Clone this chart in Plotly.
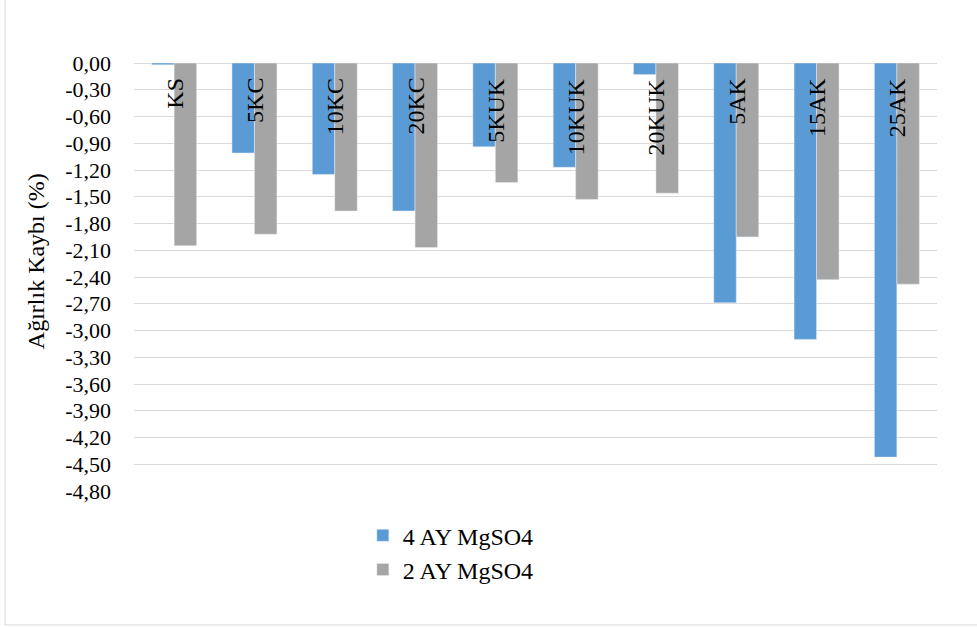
import plotly.graph_objects as go

# Sample groups and weight-loss values (%)
categories = ["KS", "5KC", "10KC", "20KC", "5KUK", "10KUK", "20KUK", "5AK", "15AK", "25AK"]
loss_4ay = [-0.02, -1.01, -1.25, -1.66, -0.94, -1.17, -0.13, -2.69, -3.10, -4.42]
loss_2ay = [-2.05, -1.92, -1.66, -2.07, -1.34, -1.53, -1.46, -1.95, -2.43, -2.48]

tick_values = [round(-0.3 * i, 2) for i in range(17)]
tick_labels = [f"{abs(v):.2f}".replace(".", ",") if v == 0 else f"-{abs(v):.2f}".replace(".", ",") for v in tick_values]

FONT = "Liberation Serif, Times New Roman, serif"
BLUE = "#5B9BD5"
GRAY = "#A5A5A5"
GRID = "#D9D9D9"

fig = go.Figure()
fig.add_trace(go.Bar(x=categories, y=loss_4ay, name="4 AY MgSO4", marker_color=BLUE))
fig.add_trace(go.Bar(x=categories, y=loss_2ay, name="2 AY MgSO4", marker_color=GRAY))

# Category names written vertically (bottom-to-top) inside the plot, below the zero line
annotations = [
    dict(x=c, y=0, xref="x", yref="y", text=c, textangle=-90, showarrow=False,
         xanchor="center", yanchor="top", yshift=-13,
         font=dict(family=FONT, size=24, color="#000000"))
    for c in categories
]
annotations.append(dict(
    x=-0.122, y=0.537, xref="paper", yref="paper", text="Ağırlık Kaybı (%)",
    textangle=-90, showarrow=False, xanchor="center", yanchor="middle",
    font=dict(family=FONT, size=24, color="#000000")))

fig.update_layout(
    width=977, height=628,
    margin=dict(l=134, r=40, t=63, b=137),
    paper_bgcolor="white", plot_bgcolor="white",
    font=dict(family=FONT, size=22, color="#000000"),
    barmode="group", bargap=0.44, bargroupgap=0,
    showlegend=True,
    legend=dict(orientation="v", x=0.285, y=-0.052, xanchor="left", yanchor="top",
                font=dict(family=FONT, size=24), tracegroupgap=0,
                bgcolor="rgba(0,0,0,0)"),
    annotations=annotations,
    shapes=[dict(type="rect", xref="paper", yref="paper",
                 x0=-0.1606, x1=1.06, y0=-0.313, y1=1.2,
                 line=dict(color=GRID, width=1), fillcolor="rgba(0,0,0,0)", layer="below")],
)
fig.update_xaxes(showticklabels=False, showgrid=False, zeroline=False, showline=False, ticks="")
fig.update_yaxes(range=[-4.8, 0], tickvals=tick_values, ticktext=tick_labels,
                 showgrid=True, gridcolor=GRID, gridwidth=1,
                 zeroline=True, zerolinecolor=GRID, zerolinewidth=1,
                 showline=False, ticks="", ticklabelstandoff=22,
                 tickfont=dict(family=FONT, size=22, color="#000000"))

fig.write_html("out.html")
